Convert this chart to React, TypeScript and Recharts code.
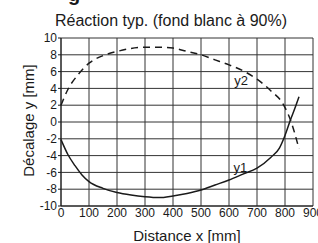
import React from "react";
import {
  LineChart,
  Line,
  XAxis,
  YAxis,
  CartesianGrid,
  ReferenceDot,
} from "recharts";

// solid curve y1
const y1Distance = [0, 25, 50, 75, 100, 150, 200, 250, 300, 350, 400, 450, 500, 550, 600, 650, 700, 750, 780, 800, 820, 835, 850];
const y1Offset = [-2.1, -3.9, -5.2, -6.3, -7.1, -7.9, -8.4, -8.7, -8.9, -9.0, -8.8, -8.5, -8.1, -7.5, -6.9, -6.2, -5.5, -4.2, -3.1, -1.6, 0.3, 1.6, 3.0];

// dashed curve y2
const y2Distance = [0, 25, 60, 100, 150, 200, 300, 350, 400, 450, 500, 550, 600, 650, 700, 750, 790, 820, 850];
const y2Offset = [2.0, 3.9, 5.6, 7.0, 7.9, 8.4, 8.9, 8.9, 8.8, 8.4, 8.0, 7.4, 6.8, 6.1, 5.1, 3.7, 2.3, 0.2, -3.2];

const xTicks = [0, 100, 200, 300, 400, 500, 600, 700, 800, 900];
const yTicks = [-10, -8, -6, -4, -2, 0, 2, 4, 6, 8, 10];

const y1Data = y1Distance.map((x, i) => ({ x, y: y1Offset[i] }));
const y2Data = y2Distance.map((x, i) => ({ x, y: y2Offset[i] }));

const font = "'Liberation Sans', Arial, sans-serif";
const ink = "#1a1a1a";

export default function App() {
  return (
    <div
      style={{
        position: "absolute",
        left: 0,
        top: 0,
        width: 318,
        height: 243,
        overflow: "hidden",
        fontFamily: font,
        color: ink,
        background: "#fff",
      }}
    >
      <div
        style={{
          position: "absolute",
          left: 68,
          top: -16,
          fontSize: 20,
          lineHeight: "20px",
          fontWeight: 700,
        }}
      >
        g
      </div>
      <div
        style={{
          position: "absolute",
          left: 0,
          top: 13,
          width: 342,
          textAlign: "center",
          fontSize: 16,
          lineHeight: "16px",
        }}
      >
        Réaction typ. (fond blanc à 90%)
      </div>
      <div
        style={{
          position: "absolute",
          left: -72.5,
          top: 112.5,
          width: 200,
          height: 15,
          textAlign: "center",
          fontSize: 15,
          lineHeight: "15px",
          transform: "rotate(-90deg)",
        }}
      >
        Décalage y [mm]
      </div>
      <div style={{ position: "absolute", left: 0, top: 0 }}>
        <LineChart
          width={318}
          height={243}
          margin={{ top: 38, right: 5, bottom: 0, left: 0 }}
        >
          <CartesianGrid stroke="#333" strokeWidth={1} />
          <XAxis
            type="number"
            dataKey="x"
            domain={[0, 900]}
            ticks={xTicks}
            interval={0}
            height={37}
            tickSize={0}
            tickMargin={2}
            stroke={ink}
            tick={{ fill: ink, fontSize: 12, fontFamily: font }}
            label={{
              value: "Distance x [mm]",
              position: "insideBottom",
              offset: 2,
              fill: ink,
              fontSize: 15,
              fontFamily: font,
            }}
          />
          <YAxis
            type="number"
            dataKey="y"
            domain={[-10, 10]}
            ticks={yTicks}
            interval={0}
            width={61}
            tickSize={3}
            tickMargin={1}
            stroke={ink}
            tick={{ fill: ink, fontSize: 12, fontFamily: font }}
          />
          <Line
            data={y2Data}
            dataKey="y"
            type="monotone"
            stroke={ink}
            strokeWidth={1.5}
            strokeDasharray="7 5"
            dot={false}
            isAnimationActive={false}
          />
          <Line
            data={y1Data}
            dataKey="y"
            type="monotone"
            stroke={ink}
            strokeWidth={1.5}
            dot={false}
            isAnimationActive={false}
          />
          <ReferenceDot
            x={643}
            y={4.9}
            r={1}
            fill="none"
            stroke="none"
            ifOverflow="visible"
            label={{ value: "y2", position: "center", fill: ink, fontSize: 13, fontFamily: font }}
          />
          <ReferenceDot
            x={641}
            y={-5.4}
            r={1}
            fill="none"
            stroke="none"
            ifOverflow="visible"
            label={{ value: "y1", position: "center", fill: ink, fontSize: 13, fontFamily: font }}
          />
        </LineChart>
      </div>
    </div>
  );
}
